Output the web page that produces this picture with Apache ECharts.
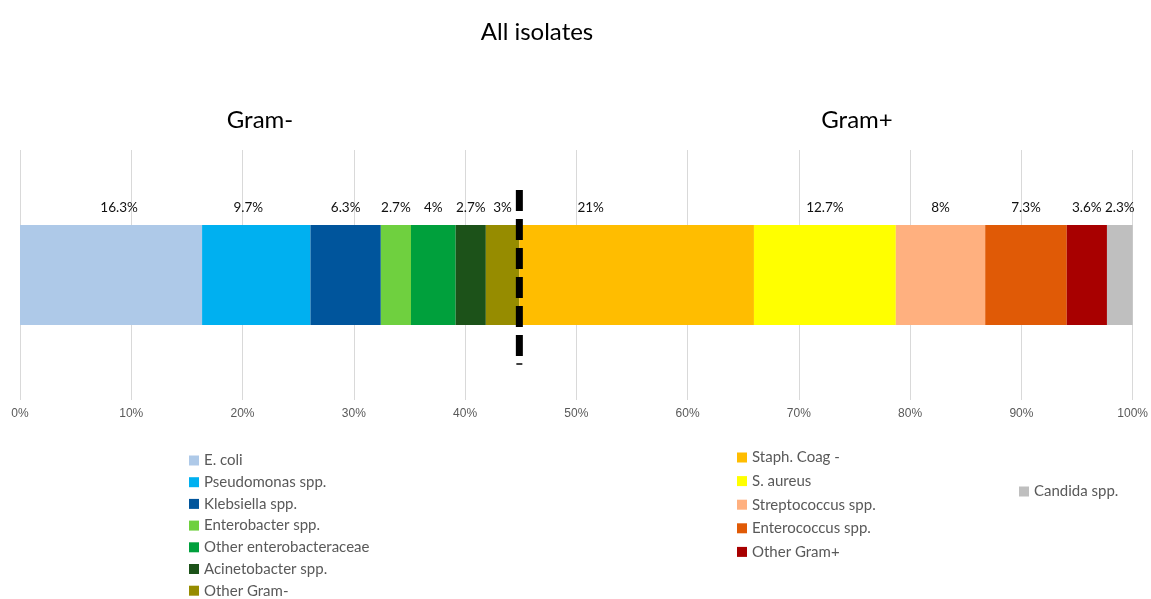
<!DOCTYPE html>
<html>
<head>
<meta charset="utf-8">
<script src="https://cdn.jsdelivr.net/npm/echarts@6/dist/echarts.min.js"></script>
<style>
  html, body { margin: 0; padding: 0; background: #fff; }
  #chart { width: 1151px; height: 599px; }
</style>
</head>
<body>
<div id="chart"></div>
<script>
// data
var categories = ['All isolates'];
var gramNegNames = ['E. coli', 'Pseudomonas spp.', 'Klebsiella spp.', 'Enterobacter spp.',
    'Other enterobacteraceae', 'Acinetobacter spp.', 'Other Gram-'];
var gramNegValues = [16.3, 9.7, 6.3, 2.7, 4, 2.7, 3];
var gramPosNames = ['Staph. Coag -', 'S. aureus', 'Streptococcus spp.', 'Enterococcus spp.', 'Other Gram+'];
var gramPosValues = [21, 12.7, 8, 7.3, 3.6];
var fungiNames = ['Candida spp.'];
var fungiValues = [2.3];

// colours, same order as the names
var colors = ['#aec9e8', '#00b0f0', '#00559c', '#6fd03f', '#00a03c', '#1c5219', '#968c00',
    '#ffbd00', '#ffff00', '#ffb07f', '#e05a06', '#a80000', '#bfbfbf'];
// hand moved labels (px)
var labelNudge = { 'E. coli': 8, 'Pseudomonas spp.': -8, 'Staph. Coag -': -46 };

var allNames = gramNegNames.concat(gramPosNames, fungiNames);
var allValues = gramNegValues.concat(gramPosValues, fungiValues);
var total = 0;
for (var i = 0; i < allValues.length; i++) { total += allValues[i]; }
var negTotal = 0;
for (var j = 0; j < gramNegValues.length; j++) { negTotal += gramNegValues[j]; }

var font = 'Lato, "Open Sans", sans-serif';

var series = allNames.map(function (name, k) {
    var raw = allValues[k];
    return {
        name: name,
        type: 'bar',
        stack: 'all',
        barWidth: 100,
        itemStyle: { color: colors[k] },
        label: {
            show: true,
            position: 'top',
            distance: 10,
            offset: [labelNudge[name] || 0, 0],
            fontFamily: font,
            fontSize: 13.5,
            color: '#111',
            formatter: function () { return raw + '%'; }
        },
        data: [raw / total * 100]
    };
});

// divider between Gram- and Gram+
series.push({
    name: 'divider',
    type: 'custom',
    z: 10,
    silent: true,
    encode: { x: 0, y: 1 },
    renderItem: function (params, api) {
        var p = api.coord([api.value(0), api.value(1)]);
        return {
            type: 'group',
            children: [
                { type: 'line', shape: { x1: p[0], y1: p[1] - 85, x2: p[0], y2: p[1] + 82 },
                  style: { stroke: '#000', lineWidth: 7, lineDash: [21, 8] } },
                { type: 'line', shape: { x1: p[0] - 3, y1: p[1] + 89, x2: p[0] + 3, y2: p[1] + 89 },
                  style: { stroke: '#000', lineWidth: 1.5 } }
            ]
        };
    },
    data: [[negTotal / total * 100, 0]]
});

var legendBase = {
    orient: 'vertical',
    icon: 'rect',
    itemWidth: 10,
    itemHeight: 10,
    padding: 0,
    height: 160,
    textStyle: { fontFamily: font, fontSize: 15, color: '#595959', lineHeight: 15 }
};

var titleStyle = { fontFamily: font, fontSize: 24, fontWeight: 'normal', color: '#000' };

var chart = echarts.init(document.getElementById('chart'));
chart.setOption({
    animation: false,
    title: [
        { text: 'All isolates', left: 532, top: 15, textAlign: 'center', textStyle: titleStyle },
        { text: 'Gram-', left: 255, top: 103, textAlign: 'center', textStyle: titleStyle },
        { text: 'Gram+', left: 852, top: 103, textAlign: 'center', textStyle: titleStyle }
    ],
    legend: [
        Object.assign({}, legendBase, { data: gramNegNames, left: 189, top: 453, itemGap: 6.7 }),
        Object.assign({}, legendBase, { data: gramPosNames, left: 737, top: 450, itemGap: 8.6 }),
        Object.assign({}, legendBase, { data: fungiNames, left: 1019, top: 484 })
    ],
    grid: { left: 20, right: 14, top: 150, bottom: 199, containLabel: false },
    xAxis: {
        type: 'value',
        min: 0,
        max: 100,
        interval: 10,
        axisLine: { show: false },
        axisTick: { show: false },
        splitLine: { show: true, lineStyle: { color: '#d9d9d9', width: 1 } },
        axisLabel: {
            margin: 8,
            formatter: '{value}%',
            fontFamily: '"Liberation Sans Narrow", "Liberation Sans", sans-serif',
            fontSize: 12,
            color: '#595959'
        }
    },
    yAxis: {
        type: 'category',
        data: categories,
        show: false
    },
    series: series
});
</script>
</body>
</html>
